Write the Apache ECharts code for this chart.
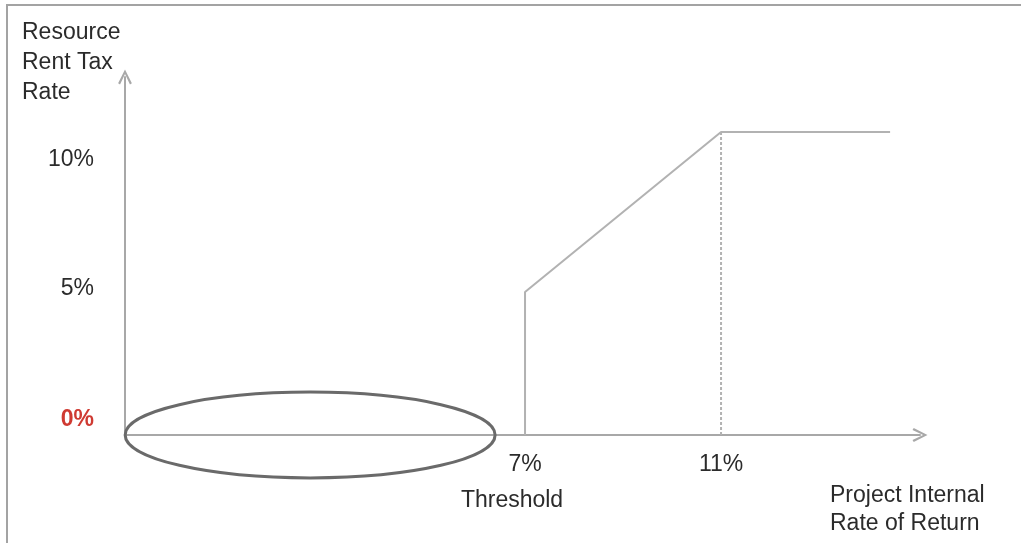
<!DOCTYPE html>
<html>
<head>
<meta charset="utf-8">
<script src="https://cdn.jsdelivr.net/npm/echarts@6/dist/echarts.min.js"></script>
<style>
  html, body { margin: 0; padding: 0; background: #fff; }
  #wrap { position: relative; width: 1021px; height: 543px; overflow: hidden; }
  #frame { position: absolute; left: 6px; top: 4px; right: -10px; bottom: -10px;
           border-top: 2px solid #a3a3a3; border-left: 2px solid #a3a3a3; pointer-events: none; }
  #chart { position: absolute; left: 0; top: 0; width: 1021px; height: 543px; }
</style>
</head>
<body>
<div id="wrap">
  <div id="chart"></div>
  <div id="frame"></div>
</div>
<script>
// ---- data ----
const irrValues   = [7, 7, 11, 14.45];        // project IRR (%)
const taxValues   = [0, 5, 10.6, 10.6];       // resource rent tax rate (%)
const guideX      = [11, 11];                 // dotted guide at 11%
const guideY      = [0, 10.6];
const xTickValues = [7, 11];
const yTickValues = [0, 5, 10];
const ellipseX    = [-1.16, 6.39];            // highlighted zero-tax region
const ellipseY    = [-1.5, 1.5];
const yAxisTitle  = ['Resource', 'Rent Tax', 'Rate'];
const xAxisTitle  = ['Project Internal', 'Rate of Return'];
const thresholdLabel = 'Threshold';

const chart = echarts.init(document.getElementById('chart'), null, { renderer: 'canvas' });
const FONT = 'Liberation Sans, Arial, sans-serif';
const FS = 23;
const AXIS_COLOR = '#a8a8a8';
const TEXT_COLOR = '#2b2b2b';
const arrowPath = 'path://M0,10 L5,0 L10,10 L8.6,10.9 L5,3.2 L1.4,10.9 Z';

const option = {
  animation: false,
  backgroundColor: '#fff',
  grid: { left: 125, right: 101, top: 77, bottom: 108, containLabel: false },
  xAxis: {
    type: 'value',
    min: -1.163, max: 15.06,
    splitLine: { show: false },
    axisTick: { show: false },
    axisLine: {
      show: true, onZero: false,
      lineStyle: { color: AXIS_COLOR, width: 2 },
      symbol: ['none', arrowPath], symbolSize: [15, 15]
    },
    axisLabel: {
      customValues: xTickValues,
      margin: 17,
      fontFamily: FONT, fontSize: FS, color: TEXT_COLOR,
      formatter: v => v === 7 ? '{a|' + v + '%}\n{b|' + thresholdLabel + '}' : '{a|' + v + '%}',
      rich: {
        a: { fontFamily: FONT, fontSize: FS, color: TEXT_COLOR, lineHeight: 26 },
        b: { fontFamily: FONT, fontSize: FS, color: TEXT_COLOR, lineHeight: 26, padding: [19, 26, 0, 0] }
      }
    }
  },
  yAxis: {
    type: 'value',
    min: 0, max: 12.52,
    splitLine: { show: false },
    axisTick: { show: false },
    axisLine: {
      show: true, onZero: false,
      lineStyle: { color: AXIS_COLOR, width: 2 },
      symbol: ['none', arrowPath], symbolSize: [15, 15]
    },
    axisLabel: {
      customValues: yTickValues,
      margin: 31,
      fontFamily: FONT, fontSize: FS, color: TEXT_COLOR,
      formatter: v => v === 0 ? '{z|0%}' : (v === 10 ? '{t|10%}' : '{f|' + v + '%}'),
      rich: {
        z: { fontFamily: FONT, fontSize: FS, fontWeight: 'bold', color: '#cf3a32', padding: [0, 0, 30, 0] },
        f: { fontFamily: FONT, fontSize: FS, color: TEXT_COLOR, padding: [0, 0, 6, 0] },
        t: { fontFamily: FONT, fontSize: FS, color: TEXT_COLOR, padding: [22, 0, 0, 0] }
      }
    }
  },
  graphic: [
    {
      type: 'text', left: 22, top: 18,
      style: { text: yAxisTitle.join('\n'), fontFamily: FONT, fontSize: FS, lineHeight: 30, fill: TEXT_COLOR }
    },
    {
      type: 'text', left: 830, top: 482,
      style: { text: xAxisTitle.join('\n'), fontFamily: FONT, fontSize: FS, lineHeight: 28, fill: TEXT_COLOR }
    }
  ],
  series: [
    {
      type: 'line',
      data: irrValues.map((x, i) => [x, taxValues[i]]),
      showSymbol: false, symbol: 'none',
      lineStyle: { color: '#b2b2b2', width: 2 },
      z: 3
    },
    {
      type: 'line',
      data: guideX.map((x, i) => [x, guideY[i]]),
      showSymbol: false, symbol: 'none',
      lineStyle: { color: '#b2b2b2', width: 2, type: [3, 2] },
      z: 2
    },
    {
      type: 'custom',
      clip: false,
      data: [[ellipseX[0], ellipseX[1], ellipseY[0], ellipseY[1]]],
      renderItem: function (params, api) {
        const p0 = api.coord([api.value(0), api.value(2)]);
        const p1 = api.coord([api.value(1), api.value(3)]);
        return {
          type: 'ellipse',
          shape: {
            cx: (p0[0] + p1[0]) / 2, cy: (p0[1] + p1[1]) / 2,
            rx: Math.abs(p1[0] - p0[0]) / 2, ry: Math.abs(p1[1] - p0[1]) / 2
          },
          style: { fill: 'none', stroke: '#6a6a6a', lineWidth: 3 }
        };
      },
      z: 4
    }
  ]
};
chart.setOption(option);
</script>
</body>
</html>
